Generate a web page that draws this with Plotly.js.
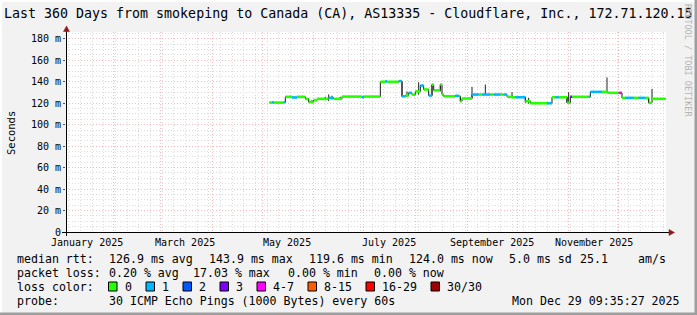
<!DOCTYPE html>
<html><head><meta charset="utf-8">
<script src="https://cdn.plot.ly/plotly-3.0.1.min.js"></script>
<style>html,body{margin:0;padding:0;background:#f2f2f2;} #chart{width:697px;height:315px;}</style>
</head><body><div id="chart"></div>
<script>
// ---------- data ----------
const rangeStart = '2025-01-03 09:35:27';
const rangeEnd   = '2025-12-29 09:35:27';

const segStart = ['2025-05-05 10:00','2025-05-07','2025-05-08','2025-05-14','2025-05-15','2025-05-19','2025-05-22','2025-05-27','2025-05-29','2025-06-01',
  '2025-06-03','2025-06-10','2025-06-13','2025-06-18','2025-06-30','2025-07-01','2025-07-11','2025-07-14','2025-07-15','2025-07-22',
  '2025-07-24','2025-07-26','2025-07-28','2025-07-30','2025-08-01','2025-08-04','2025-08-06','2025-08-09','2025-08-11','2025-08-12',
  '2025-08-16','2025-08-17','2025-08-18','2025-08-25','2025-08-27','2025-08-28','2025-08-29','2025-09-04','2025-09-08','2025-09-10',
  '2025-09-15','2025-09-17','2025-09-21','2025-09-23','2025-09-25','2025-09-28','2025-09-30','2025-10-06','2025-10-09','2025-10-19',
  '2025-10-22','2025-10-24','2025-10-26','2025-10-31','2025-11-02','2025-11-03','2025-11-13','2025-11-14','2025-11-21','2025-11-24',
  '2025-11-25','2025-12-01','2025-12-03','2025-12-05','2025-12-10','2025-12-13','2025-12-17','2025-12-19','2025-12-21'];
const segEnd = '2025-12-29 04:00';
const median = [120.6,120.8,120.6,120.9,126.0,125.4,126.0,124.0,121.1,122.9,
  124.1,125.0,124.1,126.2,125.6,126.2,140.0,140.4,140.0,140.6,
  126.5,127.2,129.7,128.0,131.0,136.5,132.8,127.2,137.4,132.0,
  137.4,128.0,126.5,127.0,126.5,121.9,124.4,128.1,128.1,128.1,
  128.1,128.1,128.1,128.1,126.0,125.6,125.6,121.9,120.0,120.0,
  125.6,125.6,125.6,120.4,126.0,126.0,126.0,130.6,130.6,130.0,
  129.7,129.7,125.0,125.0,125.0,125.0,125.0,120.4,124.1];
// index into lossColors (0 = no loss, 1 = 1/30, ...)
const lossLevel = [0,1,0,1,0,1,0,0,0,0,
  0,1,0,0,1,0,0,1,0,1,
  1,0,1,0,0,1,0,1,0,0,
  0,0,0,1,0,0,0,1,0,1,
  0,1,0,1,0,0,1,0,0,1,
  0,1,0,0,3,0,1,1,0,0,
  0,4,0,1,0,1,0,0,0];

const smokeDate = ['2025-05-29','2025-05-31','2025-06-08','2025-06-10','2025-06-12','2025-06-17','2025-07-24','2025-07-27','2025-08-03','2025-08-11',
  '2025-08-16','2025-08-28','2025-09-04','2025-09-12','2025-09-28','2025-10-06','2025-10-08','2025-10-31','2025-11-01','2025-11-24','2025-12-19','2025-12-21'];
const smokeLow  = [121.0,120.5,123.0,122.0,123.5,124.0,126.0,126.0,128.0,127.0,131.0,121.5,124.4,128.0,125.6,120.5,119.6,120.4,120.4,129.7,120.4,124.1];
const smokeHigh = [124.5,123.0,126.0,128.2,127.0,126.0,140.0,131.0,139.6,137.4,137.4,126.5,135.3,137.4,130.3,126.0,125.0,126.0,130.3,144.0,125.0,133.4];

const lossColors = ['#26ff00','#00b8ff','#0059ff','#7e00ff','#ff00ff','#ff5e00','#ff0000','#a10000'];
const lossLabels = ['0','1','2','3','4-7','8-15','16-29','30/30'];

const yTickVals = [0,20,40,60,80,100,120,140,160,180];
const yTickText = ['0','20 m','40 m','60 m','80 m','100 m','120 m','140 m','160 m','180 m'];
const monthStarts = ['2025-02-01','2025-03-01','2025-04-01','2025-05-01','2025-06-01','2025-07-01','2025-08-01','2025-09-01','2025-10-01','2025-11-01','2025-12-01'];
const monthLabelDates = ['2025-01-16','2025-03-16','2025-05-16','2025-07-16','2025-09-16','2025-11-16'];
const monthLabels = ['January 2025','March 2025','May 2025','July 2025','September 2025','November 2025'];

const titleText = 'Last 360 Days from smokeping to Canada (CA), AS13335 - Cloudflare, Inc., 172.71.120.15';
const rttLabel = 'median rtt:';
const rttStats = ['126.9 ms avg','143.9 ms max','119.6 ms min','124.0 ms now','5.0 ms sd','25.1','am/s'];
const lossLabel = 'packet loss:';
const lossStats = ['0.20 % avg','17.03 % max','0.00 % min','0.00 % now'];
const colorLabel = 'loss color:';
const probeLabel = 'probe:';
const probeText = '30 ICMP Echo Pings (1000 Bytes) every 60s';
const stampText = 'Mon Dec 29 09:35:27 2025';
const watermark = 'RRDTOOL / TOBI OETIKER';

// ---------- layout helpers (pixel -> paper) ----------
const L = 66, T = 32, W = 600, H = 200;
const px = x => (x - L) / W;
const py = y => (T + H - y) / H;
const MONO = 'DejaVu Sans Mono';

// ---------- traces ----------
const traces = [];
traces.push({
  type:'scatter', mode:'lines', x: segStart.concat([segEnd]), y: median.concat([median[median.length-1]]),
  line:{shape:'hv', color:'#1a1a1a', width:1}, hoverinfo:'skip', showlegend:false
});
const sx = [], sy = [];
smokeDate.forEach((d,i)=>{ sx.push(d,d,null); sy.push(smokeLow[i], smokeHigh[i], null); });
traces.push({type:'scatter', mode:'lines', x:sx, y:sy, line:{color:'#222', width:1}, hoverinfo:'skip', showlegend:false});
lossColors.forEach((c,lvl)=>{
  const x=[], y=[];
  segStart.forEach((d,i)=>{
    if (lossLevel[i] !== lvl) return;
    const e = i+1 < segStart.length ? segStart[i+1] : segEnd;
    x.push(d, e, null); y.push(median[i], median[i], null);
  });
  if (x.length) traces.push({type:'scatter', mode:'lines', x, y, line:{color:c, width:2.6}, connectgaps:false, hoverinfo:'skip', showlegend:false});
});

// ---------- annotations ----------
const ann = [];
const font = (s,c) => ({family:MONO, size:s, color:c||'#000'});
monthLabelDates.forEach((d,i)=>ann.push({xref:'x', yref:'paper', x:d, y:py(242.5), text:monthLabels[i], showarrow:false, xanchor:'center', yanchor:'middle', font:font(10), borderpad:0}));
ann.push({xref:'paper', yref:'paper', x:px(11), y:py(133), text:'Seconds', textangle:-90, showarrow:false, xanchor:'center', yanchor:'middle', font:font(10.5), borderpad:0});
ann.push({xref:'paper', yref:'paper', x:px(688), y:py(60), text:watermark, textangle:90, showarrow:false, xanchor:'center', yanchor:'middle', font:font(8.5,'#b4b4b4'), borderpad:0});
const leftText = (t, x, y) => ann.push({xref:'paper', yref:'paper', x:px(x), y:py(y), text:t, showarrow:false, xanchor:'left', yanchor:'middle', font:font(11.6), borderpad:0});
const rowY = [258.5, 272.5, 286.5, 300.5];
leftText(rttLabel, 16, rowY[0]);
[108,207.6,308,408,508,579,637].forEach((x,i)=>leftText(rttStats[i], x, rowY[0]));
leftText(lossLabel, 16, rowY[1]);
[108,192.4,287,373].forEach((x,i)=>leftText(lossStats[i], x, rowY[1]));
leftText(colorLabel, 16, rowY[2]);
const boxX = [108.5,146,183,220,257,308,366,431];
const shapes = [];
lossLabels.forEach((lab,i)=>{
  shapes.push({type:'rect', xref:'paper', yref:'paper', x0:px(boxX[i]), x1:px(boxX[i]+8.5), y0:py(rowY[2]+4.5), y1:py(rowY[2]-4.5), fillcolor:lossColors[i], line:{color:'#000', width:1}});
  leftText(lab, boxX[i]+15, rowY[2]);
});
leftText(probeLabel, 16, rowY[3]);
leftText(probeText, 108, rowY[3]);
ann.push({xref:'paper', yref:'paper', x:px(681), y:py(rowY[3]), text:stampText, showarrow:false, xanchor:'right', yanchor:'middle', font:font(11.6), borderpad:0});

// ---------- frame, axes, arrows ----------
shapes.push({type:'rect', xref:'paper', yref:'paper', x0:px(0), x1:px(2), y0:py(0), y1:py(315), fillcolor:'#ffffff', line:{width:0}, layer:'below'});
shapes.push({type:'rect', xref:'paper', yref:'paper', x0:px(0), x1:px(697), y0:py(0), y1:py(2), fillcolor:'#ffffff', line:{width:0}, layer:'below'});
shapes.push({type:'rect', xref:'paper', yref:'paper', x0:px(694.5), x1:px(697), y0:py(0), y1:py(315), fillcolor:'#9e9e9e', line:{width:0}});
shapes.push({type:'rect', xref:'paper', yref:'paper', x0:px(0), x1:px(697), y0:py(312.5), y1:py(315), fillcolor:'#9e9e9e', line:{width:0}});
shapes.push({type:'line', xref:'paper', yref:'paper', x0:px(62), x1:px(670), y0:py(232.5), y1:py(232.5), line:{color:'#000', width:1}});
shapes.push({type:'line', xref:'paper', yref:'paper', x0:px(66.5), x1:px(66.5), y0:py(236), y1:py(29), line:{color:'#000', width:1}});
shapes.push({type:'path', xref:'paper', yref:'paper', path:`M ${px(674.5)} ${py(232.5)} L ${px(669)} ${py(229.5)} L ${px(669)} ${py(235.5)} Z`, fillcolor:'#8b1a1a', line:{color:'#8b1a1a', width:0.5}});
shapes.push({type:'path', xref:'paper', yref:'paper', path:`M ${px(66.5)} ${py(26)} L ${px(63.5)} ${py(31.5)} L ${px(69.5)} ${py(31.5)} Z`, fillcolor:'#8b1a1a', line:{color:'#8b1a1a', width:0.5}});

const layout = {
  width:697, height:315, margin:{l:L, r:697-L-W, t:T, b:315-T-H}, autosize:false,
  paper_bgcolor:'#f2f2f2', plot_bgcolor:'#ffffff', showlegend:false,
  title:{text:titleText, x:4/697, xanchor:'left', xref:'container', y:1-13/315, yanchor:'middle', yref:'container', font:font(13.3)},
  xaxis:{type:'date', range:[rangeStart, rangeEnd], tickmode:'array', tickvals:monthStarts, ticktext:monthStarts.map(()=>''),
    showgrid:true, gridcolor:'#f4bcbc', griddash:'1px,2px', gridwidth:1, zeroline:false, showline:false, ticks:'', fixedrange:true,
    minor:{tickmode:'linear', tick0:'2025-01-05', dtick:7*86400000, showgrid:true, gridcolor:'#dcdcdc', griddash:'1px,2px', ticks:''}},
  yaxis:{range:[0, 186.4], tickmode:'array', tickvals:yTickVals, ticktext:yTickText, tickfont:font(10),
    showgrid:true, gridcolor:'#f4bcbc', griddash:'1px,2px', zeroline:false, showline:false, ticks:'outside', ticklen:2, tickcolor:'#555', fixedrange:true,
    minor:{tickmode:'linear', tick0:0, dtick:5, showgrid:true, gridcolor:'#dcdcdc', griddash:'1px,2px', ticks:''}},
  annotations:ann, shapes:shapes
};
Plotly.newPlot('chart', traces, layout, {staticPlot:true, displayModeBar:false});
</script></body></html>
